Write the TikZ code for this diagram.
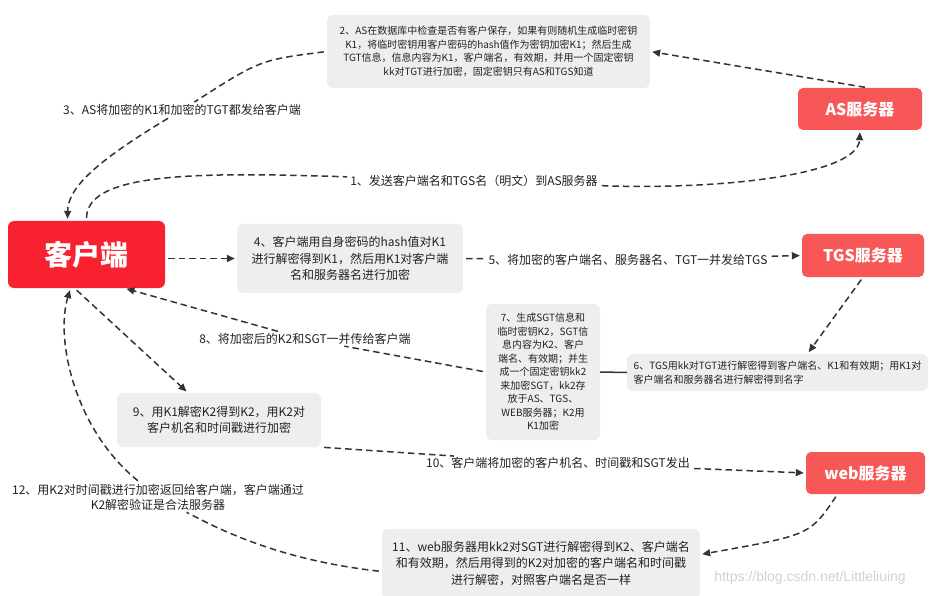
\documentclass[tikz,border=0pt]{standalone}
\usepackage{fontspec}
\setmainfont{Noto Sans CJK SC}
\newfontfamily\wmfont{Liberation Sans}
\usetikzlibrary{arrows.meta}
\definecolor{cred}{HTML}{F7212F}
\definecolor{sred}{HTML}{F85757}
\definecolor{boxgray}{HTML}{EEEEEE}
\definecolor{ink}{HTML}{333333}
\definecolor{txt}{HTML}{222222}

\begin{document}
\begin{tikzpicture}[x=1pt,y=-1pt,
  box/.style={fill=boxgray, rounded corners=6pt, text=txt, align=center, inner sep=0pt,
    font=\fontsize{10}{13.5}\selectfont},
  bigbox/.style={box, font=\fontsize{12}{16.5}\selectfont},
  srv/.style={fill=sred, rounded corners=5pt, text=white, inner sep=0pt,
    font=\fontsize{16}{16}\selectfont\bfseries},
  lbl/.style={fill=white, text=txt, inner sep=1pt, align=center,
    font=\fontsize{12}{15}\selectfont},
  link/.style={draw=ink, line width=1.5pt, dash pattern=on 6.5pt off 4pt,
    shorten <=3pt, shorten >=2pt},
  tip/.style={-{Triangle[length=8pt,width=7pt]}}]
  \useasboundingbox (0,0) rectangle (929,596);

  \node[fill=cred, rounded corners=6pt, text=white, minimum width=157pt, minimum height=67pt,
    font=\fontsize{28}{28}\selectfont\bfseries] (client) at (86.5,254.5) {客户端};
  \node[srv, minimum width=124pt, minimum height=42pt] (as) at (860,109) {AS服务器};
  \node[srv, minimum width=122pt, minimum height=43pt] (tgs) at (863,255.5) {TGS服务器};
  \node[srv, minimum width=119pt, minimum height=42pt] (web) at (865.5,473) {web服务器};

  \node[box, minimum width=323pt, minimum height=73pt] (b2) at (488.5,51.5)
    {2、AS在数据库中检查是否有客户保存，如果有则随机生成临时密钥\\
     K1，将临时密钥用客户密码的hash值作为密钥加密K1；然后生成\\
     TGT信息，信息内容为K1，客户端名，有效期，并用一个固定密钥\\
     kk对TGT进行加密，固定密钥只有AS和TGS知道};
  \node[bigbox, minimum width=226pt, minimum height=69pt] (b4) at (350,258.5)
    {4、客户端用自身密码的hash值对K1\\
     进行解密得到K1，然后用K1对客户端\\
     名和服务器名进行加密};
  \node[box, minimum width=114pt, minimum height=136pt] (b7) at (543,372)
    {7、生成SGT信息和\\临时密钥K2，SGT信\\息内容为K2、客户\\端名、有效期；并生\\
     成一个固定密钥kk2\\来加密SGT，kk2存\\放于AS、TGS、\\WEB服务器；K2用\\K1加密};
  \node[box, align=left, minimum width=301pt, minimum height=37pt] (b6) at (777.5,372.5)
    {6、TGS用kk对TGT进行解密得到客户端名、K1和有效期；用K1对\\
     客户端名和服务器名进行解密得到名字};
  \node[bigbox, minimum width=204pt, minimum height=54pt] (b9) at (219,420)
    {9、用K1解密K2得到K2，用K2对\\客户机名和时间戳进行加密};
  \node[bigbox, minimum width=318pt, minimum height=69pt] (b11) at (541,563.5)
    {11、web服务器用kk2对SGT进行解密得到K2、客户端名\\
     和有效期，然后用得到的K2对加密的客户端名和时间戳\\
     进行解密，对照客户端名是否一样};

  \node[lbl] (l1) at (474,181) {1、发送客户端名和TGS名（明文）到AS服务器};
  \node[lbl] (l3) at (182,110) {3、AS将加密的K1和加密的TGT都发给客户端};
  \node[lbl] (l5) at (628,260) {5、将加密的客户端名、服务器名、TGT一并发给TGS};
  \node[lbl] (l8) at (305,339) {8、将加密后的K2和SGT一并传给客户端};
  \node[lbl] (l10) at (558,463) {10、客户端将加密的客户机名、时间戳和SGT发出};
  \node[lbl] (l12) at (158,497) {12、用K2对时间戳进行加密返回给客户端，客户端通过\\K2解密验证是合法服务器};
  \node[text=black!18, font=\wmfont\fontsize{14}{14}\selectfont] (wm) at (810,578)
    {https://blog.csdn.net/Littleliuing};

  \draw[link] (client.north) .. controls (87,172) and (200,172) .. (l1);
  \draw[link,tip] (l1) .. controls (720,190) and (858,175) .. (as.south);
  \draw[link,tip] ([xshift=8pt]as.north) -- (b2.east);
  \draw[link] (b2.west) .. controls (260,60) .. (l3);
  \draw[link,tip] (l3) .. controls (90,165) and (68,190) .. ([xshift=-19pt]client.north);
  \draw[link,tip] (client.east |- b4.west) -- (b4.west);
  \draw[link] (b4.east) -- (l5);
  \draw[link,tip] (l5) -- (tgs.west);
  \draw[link,tip] (tgs.south) -- ([xshift=30pt]b6.north);
  \draw[ink, line width=1.5pt] (b7.east) -- (b6.west);
  \draw[link] (b7.west) -- (l8);
  \draw[link,tip] (l8) -- ([xshift=38pt]client.south);
  \draw[link,tip] ([xshift=-12pt]client.south) -- ([xshift=-31pt]b9.north);
  \draw[link] (b9.south east) -- (l10);
  \draw[link,tip] (l10) -- (web.west);
  \draw[link,tip] ([xshift=-28pt]web.south) .. controls (810,535) .. ([yshift=9pt]b11.east);
  \draw[link] ([yshift=-8pt]b11.west) .. controls (280,560) and (220,530) .. (l12);
  \draw[link,tip] (l12) .. controls (75,430) and (55,340) .. ([xshift=-16pt]client.south);
\end{tikzpicture}
\end{document}
